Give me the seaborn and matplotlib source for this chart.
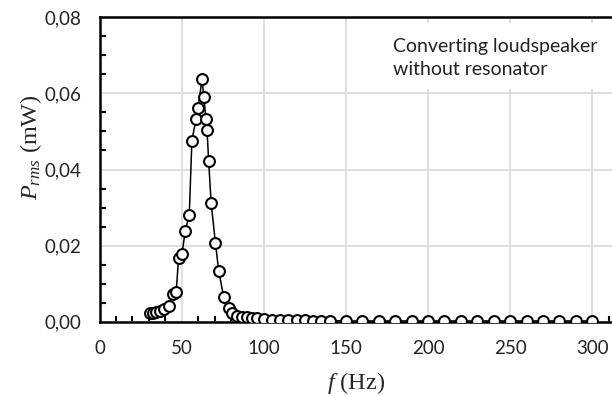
import matplotlib
matplotlib.use("Agg")
import matplotlib.pyplot as plt
import seaborn as sns
import pandas as pd
import numpy as np
from matplotlib.ticker import MultipleLocator, FuncFormatter
from matplotlib.patches import Rectangle

freq_hz = [30.4, 32.4, 34.5, 36.9, 39.3, 42.0, 44.6, 46.6, 48.1, 50.1, 52.2, 54.6,
           56.2, 58.7, 59.9, 62.4, 63.4, 64.8, 65.4, 66.4, 67.9, 70.5, 72.5, 75.5,
           78.7, 80.6, 83.7, 86.8, 89.9, 92.9, 96.0,
           100, 105, 110, 115, 120, 125, 130, 135, 140,
           150, 160, 170, 180, 190, 200, 210, 220, 230, 240, 250, 260, 270, 280, 290, 300]
p_rms_mw = [0.0022, 0.0024, 0.0025, 0.0029, 0.0033, 0.0041, 0.0074, 0.0077, 0.0167, 0.0177, 0.0239, 0.0281,
            0.0476, 0.0532, 0.0561, 0.0638, 0.0591, 0.0532, 0.0504, 0.0423, 0.0313, 0.0208, 0.0134, 0.0066,
            0.0035, 0.0024, 0.0016, 0.0013, 0.0012, 0.0011, 0.0009,
            0.0007, 0.0005, 0.0005, 0.0004, 0.0004, 0.0004, 0.0003, 0.0003, 0.0003,
            0.0002, 0.0002, 0.0002, 0.0002, 0.0002, 0.0002, 0.0002, 0.0002, 0.0002, 0.0002, 0.0002,
            0.0002, 0.0002, 0.0002, 0.0002, 0.0002]
annotation = "Converting loudspeaker\nwithout resonator"

df = pd.DataFrame({"f": freq_hz, "P": p_rms_mw})

sns.set_style("white")
plt.rcParams["font.family"] = ["Lato", "DejaVu Sans"]
plt.rcParams["mathtext.fontset"] = "custom"
plt.rcParams["mathtext.rm"] = "Liberation Serif"
plt.rcParams["mathtext.it"] = "Liberation Serif:italic"

fig = plt.figure(figsize=(6.12, 3.96), dpi=100)
ax = fig.add_axes([99.6 / 612, 1 - 321.7 / 396, 1 - 99.6 / 612, (321.7 - 17.3) / 396])

sns.lineplot(data=df, x="f", y="P", ax=ax, color="black", linewidth=1.1,
             marker="o", markersize=7.8, markerfacecolor="white",
             markeredgecolor="black", markeredgewidth=1.5, zorder=5, sort=False)

ax.set_xlim(0, 312)
ax.set_ylim(0, 0.08)
ax.xaxis.set_major_locator(MultipleLocator(50))
ax.xaxis.set_minor_locator(MultipleLocator(10))
ax.yaxis.set_major_locator(MultipleLocator(0.02))
ax.yaxis.set_minor_locator(MultipleLocator(0.005))
ax.yaxis.set_major_formatter(FuncFormatter(lambda v, p: f"{v:.2f}".replace(".", ",")))
ax.xaxis.set_major_formatter(FuncFormatter(lambda v, p: f"{v:.0f}"))

ax.grid(True, which="major", color="#d9d9d9", linewidth=1.2, zorder=0)
ax.set_axisbelow(True)

for s in ["left", "bottom", "top"]:
    ax.spines[s].set_visible(True)
    ax.spines[s].set_color("black")
    ax.spines[s].set_linewidth(1.8)
ax.spines["right"].set_visible(False)

ax.tick_params(which="major", direction="inout", length=8, width=1.8, color="black",
               labelsize=13.5, labelcolor="#222222")
ax.tick_params(axis="y", which="major", pad=9)
ax.tick_params(axis="x", which="major", pad=9)
ax.tick_params(which="minor", direction="in", length=4, width=1.5, color="black")
ax.tick_params(top=False, right=False, which="both")
ax.tick_params(axis="x", which="minor", bottom=True)
ax.tick_params(axis="y", which="minor", left=True)

ax.set_xlabel(r"$f$ (Hz)", fontsize=17.5, family="Liberation Serif")
ax.set_ylabel(r"$P_{rms}$ (mW)", fontsize=17.5, family="Liberation Serif")
ax.xaxis.set_label_coords(0.5, -0.158)
ax.yaxis.set_label_coords(-0.108, 0.575)

ax.add_patch(Rectangle((0.545, 0.765), 0.47, 0.215, transform=ax.transAxes,
                       facecolor="white", edgecolor="none", zorder=3))
ax.text((393 - 99.6) / 512.4, (321.7 - 38) / 304.4, annotation, transform=ax.transAxes,
        fontsize=14, va="top", ha="left", linespacing=1.4, color="#222222", zorder=4)

fig.savefig("out.png", dpi=100)
